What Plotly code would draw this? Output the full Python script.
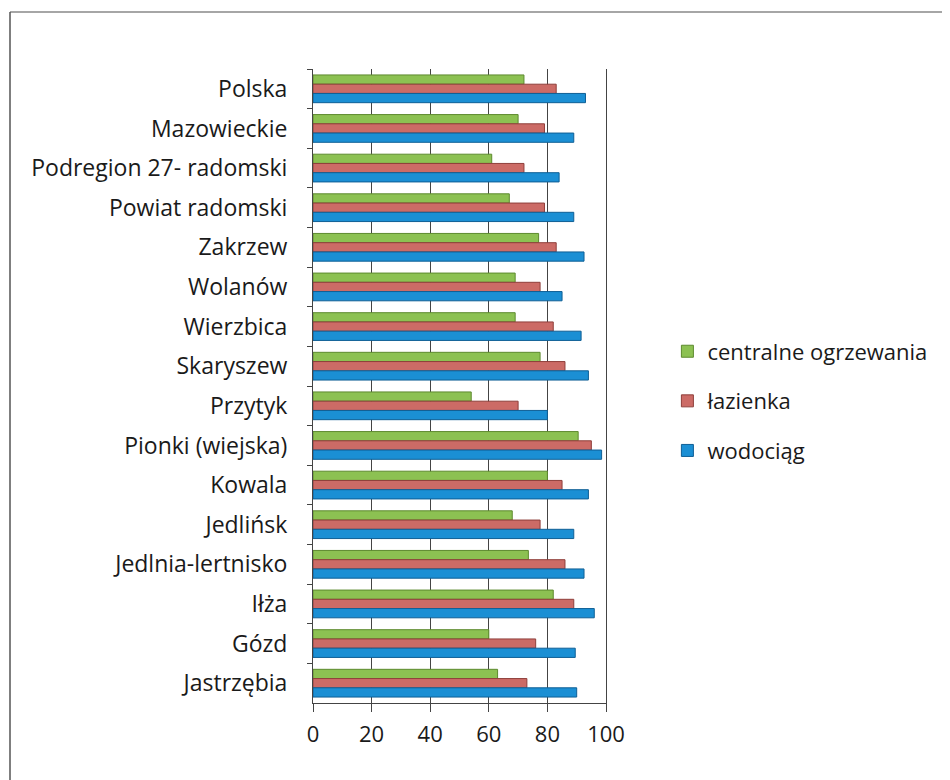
import plotly.graph_objects as go

categories = ["Polska", "Mazowieckie", "Podregion 27- radomski", "Powiat radomski",
              "Zakrzew", "Wolanów", "Wierzbica", "Skaryszew", "Przytyk",
              "Pionki (wiejska)", "Kowala", "Jedlińsk", "Jedlnia-lertnisko",
              "Iłża", "Gózd", "Jastrzębia"]
centralne_ogrzewania = [72, 70, 61, 67, 77, 69, 69, 77.5, 54, 90.5, 80, 68, 73.5, 82, 60, 63]
lazienka = [83, 79, 72, 79, 83, 77.5, 82, 86, 70, 95, 85, 77.5, 86, 89, 76, 73]
wodociag = [93, 89, 84, 89, 92.5, 85, 91.5, 94, 80, 98.5, 94, 89, 92.5, 96, 89.5, 90]
x_ticks = [0, 20, 40, 60, 80, 100]

series = [
    ("centralne ogrzewania", centralne_ogrzewania, "#8cc152", "#5d8a2e"),
    ("łazienka", lazienka, "#cc6b66", "#8f3f3b"),
    ("wodociąg", wodociag, "#1b8fd4", "#0f5f95"),
]

fig = go.Figure()
for i, (name, vals, col, edge) in enumerate(series):
    fig.add_trace(go.Bar(
        y=categories, x=vals, name=name, orientation="h",
        marker=dict(color=col, line=dict(color=edge, width=1)),
        legendgroup=str(i),
    ))

FONT = "Open Sans"
W, H = 942, 772
L, R, T, B = 305, 344, 61, 77
PW, PH = W - L - R, H - T - B

fig.update_layout(
    width=W, height=H,
    paper_bgcolor="white", plot_bgcolor="white",
    margin=dict(l=L, r=R, t=T, b=B),
    barmode="group", bargap=0.3, bargroupgap=0,
    font=dict(family=FONT, color="#1a1a1a"),
    legend=dict(xref="container", yref="container", x=0.70, y=0.491,
                xanchor="left", yanchor="middle",
                font=dict(size=22, family=FONT), traceorder="grouped",
                tracegroupgap=18, itemwidth=30),
    showlegend=True,
)
fig.update_xaxes(range=[0, 100], tickvals=x_ticks, showgrid=True, gridcolor="#444",
                 gridwidth=1, showline=True, linecolor="#444", ticks="outside",
                 ticklen=8, tickcolor="#444", tickfont=dict(size=22, family=FONT),
                 zeroline=False, ticklabelstandoff=4)
fig.update_yaxes(autorange="reversed", showline=True, linecolor="#444", mirror=True,
                 ticks="outside", tickson="boundaries", ticklen=5, tickcolor="#444",
                 tickfont=dict(size=23, family=FONT), showgrid=False, ticklabelstandoff=20)

# outer frame (scan border)
fig.add_shape(type="line", xref="paper", yref="paper",
              x0=(2 - L) / PW, x1=(W - L) / PW,
              y0=(H - B - 4) / PH, y1=(H - B - 4) / PH,
              line=dict(color="#888", width=1.5))
fig.add_shape(type="line", xref="paper", yref="paper",
              x0=(2 - L) / PW, x1=(2 - L) / PW,
              y0=(H - B - 4) / PH, y1=-B / PH,
              line=dict(color="#555", width=1.5))

fig.write_html("out.html")
